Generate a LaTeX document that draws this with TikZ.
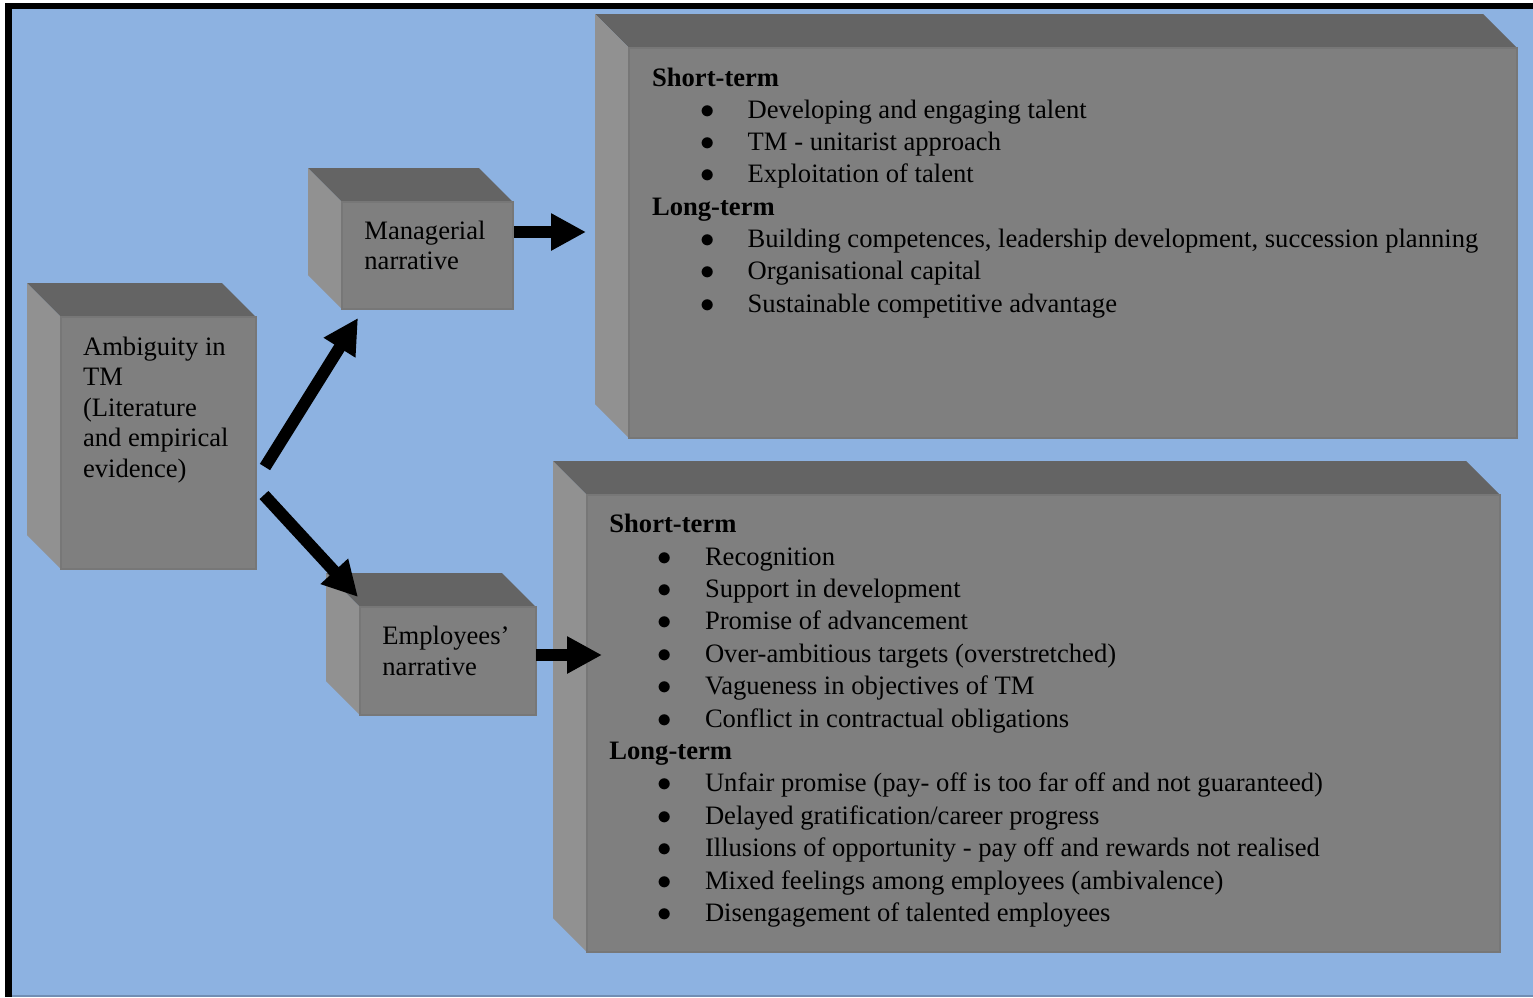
\documentclass[tikz,border=0pt]{standalone}
\usepackage{fontspec}
\setmainfont{Liberation Serif}
\usetikzlibrary{arrows.meta}
\definecolor{bgblue}{HTML}{8DB2E1}
\definecolor{cubetop}{HTML}{646464}
\definecolor{cubefront}{HTML}{7F7F7F}
\definecolor{cubeside}{HTML}{919191}
\definecolor{cubeedge}{HTML}{777777}
\newcommand\cubebox[4]{%
  \fill[cubetop] (#1,#2) -- ++(-34,-34) -- (#3-34,#2-34) -- (#3,#2) -- cycle;
  \fill[cubeside] (#1,#2) -- ++(-34,-34) -- (#1-34,#4-34) -- (#1,#4) -- cycle;
  \fill[cubefront] (#1,#2) rectangle (#3,#4);
  \draw[cubeedge, line width=1pt] (#1,#2) rectangle (#3,#4);
}
\newcommand\hdline[1]{\textbf{#1}\par}
\newcommand\itm[1]{\hspace*{24.0pt}\makebox[23.8pt][l]{$\bullet$}#1\par}
\tikzset{
  txt/.style={inner sep=0pt, anchor=base west},
  blk/.style={line width=6pt, -{Triangle[length=17.5pt,width=17.5pt]}},
}
\begin{document}
\begin{tikzpicture}[x=0.5pt, y=-0.5pt]
\useasboundingbox (0,0) rectangle (1533,997);
% frame
\fill[white] (0,0) rectangle (1533,997);
\fill[bgblue] (12,9) rectangle (1533,995);
\fill[black] (5,3) rectangle (1533,9);
\fill[black] (5,3) rectangle (12,997);
\fill[bgblue!80!black] (12,995) rectangle (1533,997);
% cubes
\cubebox{61}{317}{256}{569}
\cubebox{342}{202}{513}{309}
\cubebox{360}{607}{536}{715}
\cubebox{629}{48}{1517}{438}
\cubebox{587}{495}{1500}{952}
% texts
\node[txt] (amb) at (82.7,355) {\parbox[t]{100pt}{\setlength\parindent{0pt}\fontsize{13.3}{15.25}\selectfont
Ambiguity in\par TM\par (Literature\par and empirical\par evidence)}};
\node[txt] (man) at (364,239) {\parbox[t]{100pt}{\setlength\parindent{0pt}\fontsize{13.3}{15}\selectfont
Managerial\par narrative}};
\node[txt] (emp) at (382,644) {\parbox[t]{100pt}{\setlength\parindent{0pt}\fontsize{13.3}{15.5}\selectfont
Employees’\par narrative}};
\node[txt] (mgo) at (651.7,86) {\parbox[t]{480pt}{\setlength\parindent{0pt}\fontsize{13.3}{16.15}\selectfont
\hdline{Short-term}
\itm{Developing and engaging talent}
\itm{TM - unitarist approach}
\itm{Exploitation of talent}
\hdline{Long-term}
\itm{Building competences, leadership development, succession planning}
\itm{Organisational capital}
\itm{Sustainable competitive advantage}}};
\node[txt] (eo) at (609,532.7) {\parbox[t]{480pt}{\setlength\parindent{0pt}\fontsize{13.3}{16.2}\selectfont
\hdline{Short-term}
\itm{Recognition}
\itm{Support in development}
\itm{Promise of advancement}
\itm{Over-ambitious targets (overstretched)}
\itm{Vagueness in objectives of TM}
\itm{Conflict in contractual obligations}
\hdline{Long-term}
\itm{Unfair promise (pay- off is too far off and not guaranteed)}
\itm{Delayed gratification/career progress}
\itm{Illusions of opportunity - pay off and rewards not realised}
\itm{Mixed feelings among employees (ambivalence)}
\itm{Disengagement of talented employees}}};
% arrows
\coordinate (u1) at (265,467);
\coordinate (u2) at (358,318);
\coordinate (d1) at (264,495);
\coordinate (d2) at (358,597);
\coordinate (m1) at (514,232);
\coordinate (m2) at (586,232);
\coordinate (e1) at (536,655);
\coordinate (e2) at (602,655);
\draw[blk] (u1) -- (u2);
\draw[blk] (d1) -- (d2);
\draw[blk] (m1) -- (m2);
\draw[blk] (e1) -- (e2);
\end{tikzpicture}
\end{document}
